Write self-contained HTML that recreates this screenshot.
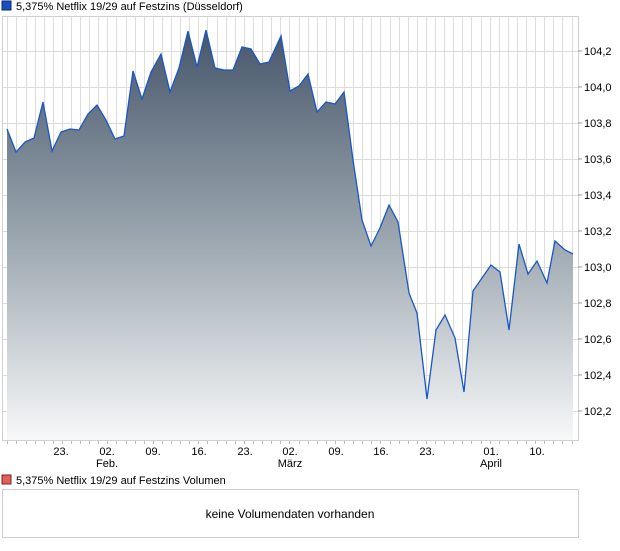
<!DOCTYPE html>
<html><head><meta charset="utf-8"><style>
body{margin:0;background:#fff;font-family:"Liberation Sans",sans-serif;}
</style></head><body>
<svg width="620" height="546" xmlns="http://www.w3.org/2000/svg" font-family="Liberation Sans, sans-serif">
<defs>
<linearGradient id="g" x1="0" y1="30" x2="0" y2="440" gradientUnits="userSpaceOnUse">
<stop offset="0" stop-color="#46566a"/>
<stop offset="0.5" stop-color="#9aa5ae"/>
<stop offset="1" stop-color="#f7f8f9"/>
</linearGradient>
</defs>
<rect x="2" y="1" width="9" height="9" fill="#1a4fc0" stroke="#0a2a70" stroke-width="1"/>
<text x="16" y="10" font-size="11" fill="#000">5,375% Netflix 19/29 auf Festzins (Düsseldorf)</text>
<g stroke="#dcdcdc" stroke-width="1">
<path id="vg" d=""/>
</g>
<g id="grid"></g>
<polygon id="area" fill="url(#g)" points=""/>
<polyline id="ln" fill="none" stroke="#1a56c8" stroke-width="1.3" points=""/>
<rect x="2.5" y="16.5" width="576" height="424" fill="none" stroke="#d0d0d0"/>
<g font-size="11" fill="#000">
<text x="584" y="55">104,2</text><text x="584" y="91">104,0</text><text x="584" y="127">103,8</text>
<text x="584" y="163">103,6</text><text x="584" y="199">103,4</text><text x="584" y="235">103,2</text>
<text x="584" y="271">103,0</text><text x="584" y="307">102,8</text><text x="584" y="343">102,6</text>
<text x="584" y="379">102,4</text><text x="584" y="415">102,2</text>
</g>
<g stroke="#999"><path d="M578 51h4M578 87h4M578 123h4M578 159h4M578 195h4M578 231h4M578 267h4M578 303h4M578 339h4M578 375h4M578 411h4"/></g>
<g font-size="11" fill="#000" text-anchor="middle">
<text x="61" y="455">23.</text><text x="107" y="455">02.</text><text x="153" y="455">09.</text>
<text x="199" y="455">16.</text><text x="245" y="455">23.</text><text x="290" y="455">02.</text>
<text x="336" y="455">09.</text><text x="381" y="455">16.</text><text x="427" y="455">23.</text>
<text x="491" y="455">01.</text><text x="537" y="455">10.</text>
<text x="107" y="467">Feb.</text><text x="290" y="467">März</text><text x="491" y="467">April</text>
</g>
<rect x="2" y="475" width="9" height="9" fill="#e06060" stroke="#802020"/>
<text x="16" y="484" font-size="11" fill="#000">5,375% Netflix 19/29 auf Festzins Volumen</text>
<rect x="2.5" y="489.5" width="576" height="48" fill="#fff" stroke="#d0d0d0"/>
<text x="290" y="518" font-size="12" fill="#000" text-anchor="middle">keine Volumendaten vorhanden</text>
<script>
var d=[[7,129],[16,152],[25,142],[34,138],[43,102],[52,151],[61,132],[70,129],[79,130],[88,114],[97,105],[106,120],[115,139],[124,136],[133,71],[142,99],[151,72],[161,54],[170,92],[179,68],[188,31],[197,67],[206,30],[215,68],[224,70],[233,70],[242,47],[251,49],[260,64],[269,62],[281,36],[290,91],[299,86],[308,74],[317,112],[326,102],[335,104],[344,92],[353,160],[362,220],[371,246],[380,228],[389,205],[398,222],[409,293],[417,313],[427,399],[436,330],[445,315],[455,338],[464,392],[473,291],[482,278],[491,265],[500,272],[509,330],[519,244],[528,274],[537,261],[547,283],[555,241],[565,250],[573,254]];
var ns="http://www.w3.org/2000/svg";
var g=document.getElementById("grid");var p="";
for(var x=7.3;x<576;x+=9.1){p+="M"+Math.round(x)+".5 17V440";}
for(var y=51;y<440;y+=36){p+="M3 "+y+".5H578";}
var t="";for(var x=7.3;x<576;x+=9.1){t+="M"+Math.round(x)+".5 441v3";}
var e=document.createElementNS(ns,"path");e.setAttribute("d",p);e.setAttribute("stroke","#dcdcdc");g.appendChild(e);
var e2=document.createElementNS(ns,"path");e2.setAttribute("d",t);e2.setAttribute("stroke","#bbb");g.appendChild(e2);
var s=d.map(function(a){return a.join(",")}).join(" ");
document.getElementById("ln").setAttribute("points",s);
document.getElementById("area").setAttribute("points",s+" 573,440 7,440");
</script>
</svg>
</body></html>
